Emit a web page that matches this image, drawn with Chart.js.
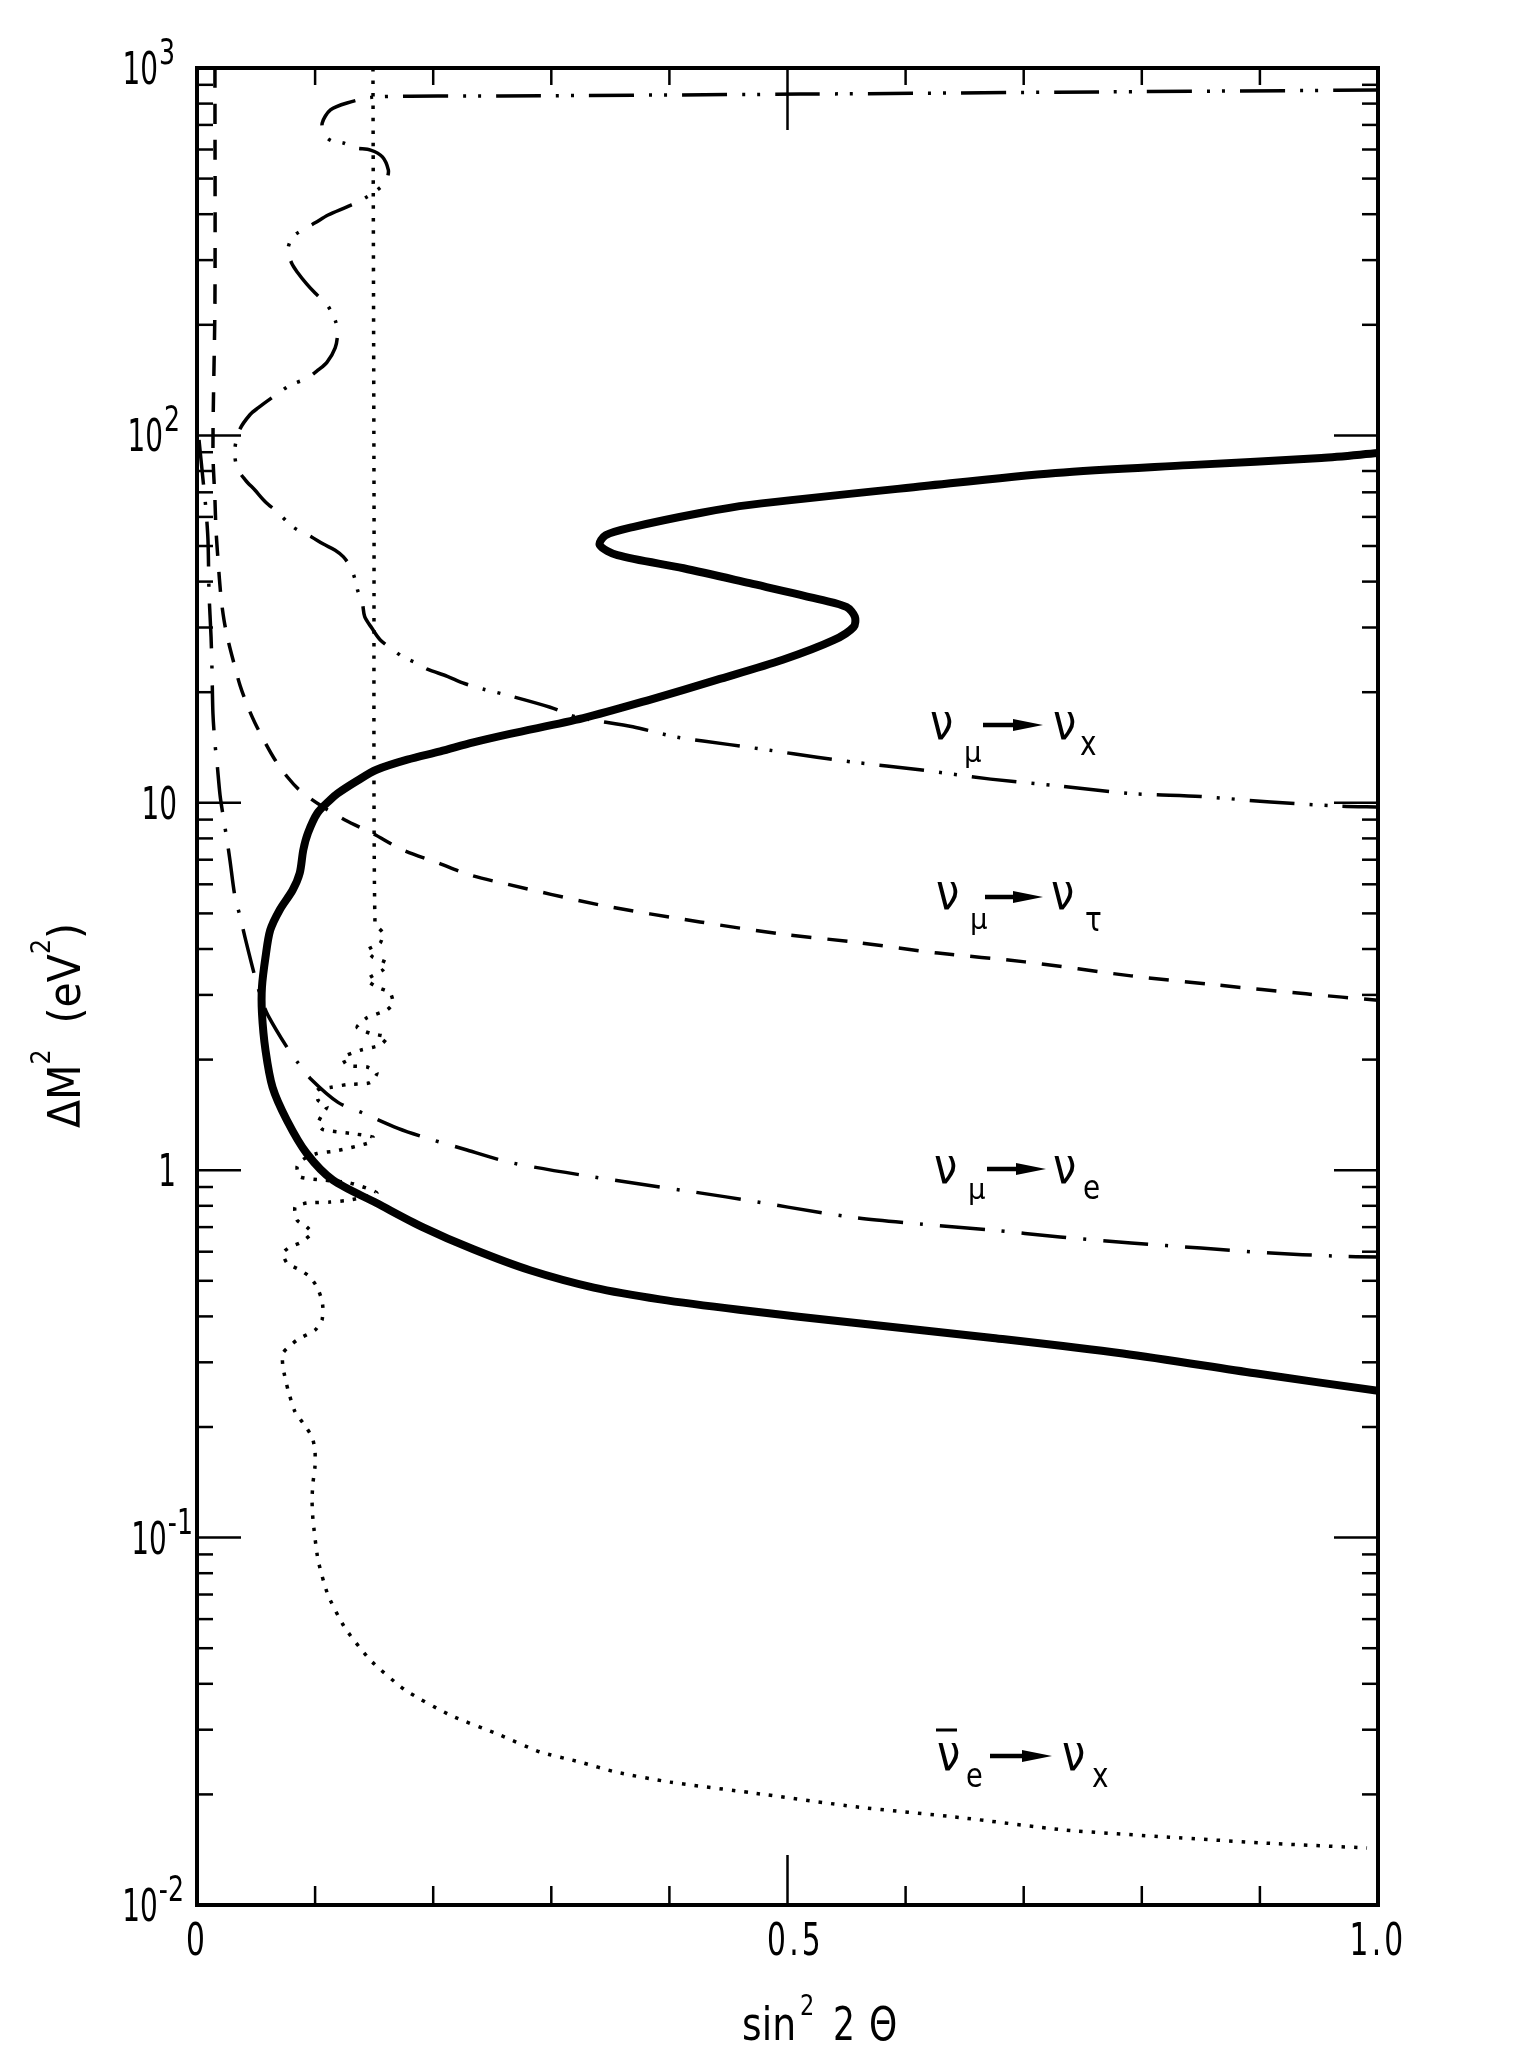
<!DOCTYPE html>
<html><head><meta charset="utf-8">
<script src="https://cdn.jsdelivr.net/npm/chart.js@4.4.1/dist/chart.umd.min.js"></script>
<style>html,body{margin:0;padding:0;background:#fff;}canvas{display:block;}</style>
</head><body>
<canvas id="c" width="1516" height="2070"></canvas>
<script>
// ---------------- data ----------------
// thick solid contour (this experiment)
const solidX = [1.0,0.896,0.784,0.672,0.560,0.459,0.392,0.336,0.282,0.234,0.191,0.152,0.115,0.093,0.076,0.064,0.058,0.055,0.055,0.058,0.062,0.070,0.081,0.087,0.090,0.094,0.102,0.113,0.119,0.136,0.152,0.178,0.206,0.234,0.265,0.327,0.384,0.440,0.496,0.539,0.556,0.557,0.550,0.530,0.468,0.412,0.356,0.341,0.346,0.369,0.426,0.468,0.616,0.727,0.840,0.952,1.0];
const solidY = [0.251,0.280,0.317,0.350,0.383,0.417,0.445,0.479,0.534,0.609,0.700,0.814,0.940,1.11,1.37,1.68,2.12,2.68,3.15,3.80,4.50,5.11,5.79,6.44,7.44,8.28,9.38,10.2,10.6,11.5,12.3,13.1,13.8,14.6,15.4,17.0,19.1,21.6,24.5,27.7,30.1,32.1,34.1,35.6,39.6,43.5,47.2,50.3,53.5,56.3,61.5,64.7,72.8,79.0,83.0,86.8,89.5];
// nu_mu -> nu_x  (dash-dot-dot)
const numuNuxX = [1.0,0.765,0.511,0.257,0.151,0.127,0.113,0.106,0.108,0.114,0.124,0.134,0.147,0.157,0.162,0.161,0.157,0.140,0.127,0.111,0.100,0.091,0.081,0.077,0.080,0.085,0.093,0.100,0.110,0.117,0.119,0.117,0.110,0.103,0.093,0.079,0.064,0.052,0.045,0.036,0.032,0.034,0.041,0.049,0.058,0.068,0.081,0.097,0.107,0.117,0.124,0.130,0.134,0.136,0.140,0.142,0.148,0.155,0.166,0.174,0.186,0.195,0.212,0.225,0.242,0.261,0.299,0.322,0.369,0.406,0.451,0.485,0.525,0.556,0.612,0.672,0.731,0.791,0.850,0.909,0.969,1.0];
const numuNuxY = [871,861,849,839,834,803,769,708,657,633,625,606,598,573,528,502,478,438,419,398,379,365,347,320,295,278,258,244,227,206,190,173,158,151,143,137,127,119,114,103.5,91.3,81.5,75.6,71.0,65.9,61.9,56.4,52.9,50.6,48.7,46.7,43.8,40.4,37.9,35.0,32.1,29.9,27.8,26.1,25.0,24.0,23.1,22.1,21.2,20.4,19.7,18.2,17.1,16.1,15.1,14.4,13.9,13.3,12.9,12.3,11.6,11.1,10.6,10.4,10.05,9.79,9.74];
// nu_mu -> nu_tau  (dashed)
const numuNutauX = [0.0152,0.0152,0.0135,0.0152,0.0161,0.0178,0.0203,0.0229,0.0262,0.0305,0.0364,0.0432,0.0491,0.0576,0.066,0.0771,0.0872,0.1042,0.1253,0.1482,0.1744,0.2041,0.2312,0.2583,0.3412,0.4259,0.4936,0.5555,0.6274,0.7011,0.7909,0.8645,0.939,1.0];
const numuNutauY = [1000,234,91.2,66.7,55.3,45.8,36.3,31.4,27.8,24.5,20.9,18.2,16.5,14.6,13.1,11.7,10.8,9.86,8.98,8.27,7.44,6.86,6.36,6.05,5.27,4.74,4.40,4.18,3.90,3.69,3.38,3.19,3.02,2.90];
// nu_mu -> nu_e  (dash-dot)
const numuNueX = [0.0017,0.0051,0.0076,0.0093,0.0102,0.0119,0.0127,0.0135,0.0152,0.0169,0.0195,0.022,0.0254,0.0279,0.0322,0.0364,0.0406,0.0491,0.055,0.0601,0.0762,0.0855,0.0957,0.1194,0.1406,0.1702,0.1956,0.2286,0.265,0.3362,0.4479,0.5529,0.6122,0.6715,0.7307,0.7909,0.8501,0.9094,0.9627,1.0];
const numuNueY = [97.2,75.7,62.7,51.9,37.2,28.3,23.0,17.5,14.5,12.9,10.5,9.26,7.92,6.98,5.54,4.92,4.31,3.36,2.90,2.64,2.16,1.96,1.78,1.53,1.43,1.30,1.22,1.135,1.05,0.958,0.846,0.746,0.714,0.688,0.658,0.634,0.614,0.595,0.584,0.580];
// anti-nu_e -> nu_x  (dotted)
const nuebarNuxX = [0.149,0.1499,0.1507,0.1575,0.155,0.1439,0.149,0.1609,0.1575,0.1439,0.1524,0.1634,0.166,0.1609,0.1439,0.1355,0.1465,0.1609,0.155,0.138,0.1236,0.127,0.1439,0.1524,0.1465,0.127,0.1126,0.1016,0.1025,0.1101,0.1067,0.1025,0.1067,0.1296,0.149,0.1465,0.1185,0.1016,0.0898,0.0847,0.0872,0.1067,0.1296,0.1524,0.1296,0.1126,0.0931,0.083,0.0847,0.0931,0.0974,0.0872,0.0787,0.0728,0.0762,0.0872,0.0957,0.1016,0.1058,0.1067,0.1058,0.0999,0.0847,0.0728,0.0728,0.0771,0.083,0.0898,0.0974,0.0999,0.0999,0.0982,0.0974,0.0982,0.1025,0.1109,0.1253,0.1465,0.1761,0.2142,0.2566,0.2904,0.3243,0.3548,0.4005,0.4699,0.558,0.6461,0.735,0.823,0.9111,0.9907];
const nuebarNuxY = [1000,66.7,4.71,4.42,4.15,3.97,3.80,3.66,3.51,3.30,3.15,3.04,2.85,2.73,2.60,2.45,2.36,2.30,2.19,2.12,2.03,1.93,1.91,1.84,1.73,1.71,1.68,1.65,1.55,1.49,1.43,1.34,1.29,1.26,1.23,1.19,1.13,1.11,1.07,1.02,0.959,0.940,0.923,0.867,0.830,0.819,0.814,0.794,0.731,0.700,0.674,0.634,0.618,0.595,0.559,0.535,0.512,0.481,0.443,0.416,0.391,0.367,0.345,0.318,0.291,0.252,0.220,0.205,0.188,0.173,0.156,0.141,0.127,0.112,0.0869,0.0698,0.0568,0.0465,0.0385,0.0329,0.0290,0.0261,0.0245,0.0230,0.0216,0.0202,0.0185,0.0173,0.0160,0.0153,0.0147,0.0143];

// ticks and labels
const xTickValues = [0, 0.5, 1.0];
const xTickLabels = ['0', '0.5', '1.0'];
const xMinorTicks = [0.1,0.2,0.3,0.4,0.5,0.6,0.7,0.8,0.9];
const yTickValues = [0.01, 0.1, 1, 10, 100, 1000];
const yTickBase = ['10', '10', '1', '10', '10', '10'];
const yTickExp  = ['-2', '-1', '', '', '2', '3'];
const xTitle = ['sin', '2', '2', '\u0398'];
const yTitle = ['\u0394M', '2', '  (eV', '2', ')'];
// curve annotations: [initial, initial subscript, bar?, final, final subscript]
const curveLabels = [
  ['\u03BD', '\u03BC', false, '\u03BD', 'x'],
  ['\u03BD', '\u03BC', false, '\u03BD', '\u03C4'],
  ['\u03BD', '\u03BC', false, '\u03BD', 'e'],
  ['\u03BD', 'e', true, '\u03BD', 'x']
];

// ---------------- drawing ----------------
const FONT = '"DejaVu Sans", "Liberation Sans", sans-serif';
function pts(xs, ys) { return xs.map((x, i) => ({x: x, y: ys[i]})); }

function txt(ctx, s, x, y, size, sx, align, spacing) {
  ctx.save();
  ctx.font = size + 'px ' + FONT;
  ctx.textAlign = align || 'left';
  ctx.textBaseline = 'alphabetic';
  if (spacing) { try { ctx.letterSpacing = spacing + 'px'; } catch (e) {} }
  ctx.translate(x, y);
  ctx.scale(sx, 1);
  ctx.fillText(s, 0, 0);
  ctx.restore();
}
function tw(ctx, s, size, sx) { ctx.save(); ctx.font = size + 'px ' + FONT; const w = ctx.measureText(s).width * sx; ctx.restore(); return w; }
function seg(ctx, x1, y1, x2, y2) { ctx.beginPath(); ctx.moveTo(x1, y1); ctx.lineTo(x2, y2); ctx.stroke(); }

function arrow(ctx, x1, x2, y) {
  ctx.lineWidth = 4.5;
  seg(ctx, x1, y, x2 - 20, y);
  ctx.beginPath();
  ctx.moveTo(x2 - 30, y - 6);
  ctx.lineTo(x2, y);
  ctx.lineTo(x2 - 30, y + 6);
  ctx.closePath();
  ctx.fill();
}

// placement of annotations (pixels)
const labelPos = [
  {nu1: 932, base: 739, sub1Top: 746, a1: 983, a2: 1043, ay: 725, nu2: 1055, sub2: 1080, sub2Base: 755},
  {nu1: 938, base: 909, sub1Top: 913, a1: 985, a2: 1043, ay: 897, nu2: 1053, sub2: 1085, sub2Base: 931},
  {nu1: 936, base: 1183, sub1Top: 1183, a1: 987, a2: 1046, ay: 1169, nu2: 1055, sub2: 1083, sub2Base: 1199},
  {nu1: 939, base: 1770, sub1Top: 1768, a1: 990, a2: 1052, ay: 1756, nu2: 1064, sub2: 1092, sub2Base: 1787}
];
const yLabelRight = [184, 193, 176, 177, 180, 175];

const decor = {
  id: 'decor',
  afterDraw(chart) {
    const ctx = chart.ctx, xs = chart.scales.x, ys = chart.scales.y, a = chart.chartArea;
    ctx.save();
    ctx.fillStyle = '#000'; ctx.strokeStyle = '#000'; ctx.lineCap = 'butt'; ctx.setLineDash([]);
    // frame
    ctx.lineWidth = 4;
    ctx.strokeRect(a.left, a.top, a.right - a.left, a.bottom - a.top);
    // y ticks (inside, both sides)
    ctx.lineWidth = 2.5;
    for (let d = -2; d <= 2; d++) {
      for (let k = 1; k <= 9; k++) {
        const v = k * Math.pow(10, d);
        const py = ys.getPixelForValue(v);
        const len = (k === 1) ? 44 : 16;
        seg(ctx, a.left, py, a.left + len, py);
        seg(ctx, a.right, py, a.right - len, py);
      }
    }
    // x ticks (inside, top and bottom)
    for (const v of xMinorTicks) {
      const px = xs.getPixelForValue(v);
      const major = Math.abs(v - 0.5) < 1e-9;
      seg(ctx, px, a.bottom, px, a.bottom - (major ? 50 : 19));
      seg(ctx, px, a.top, px, a.top + (major ? 62 : 17));
    }
    // x tick labels
    xTickValues.forEach((v, i) => {
      txt(ctx, xTickLabels[i], xs.getPixelForValue(v) + (i === 1 ? 8 : 0), 1955, 45, 0.66, 'center', 5);
    });
    // y tick labels
    yTickValues.forEach((v, i) => {
      const py = ys.getPixelForValue(v);
      const e = yTickExp[i];
      const RE = yLabelRight[i];
      if (e) {
        const we = tw(ctx, e, 36, 0.7);
        txt(ctx, e, RE - we, py - 4, 36, 0.7, 'left');
        txt(ctx, yTickBase[i], RE - we - 1, py + 16, 45, 0.62, 'right');
      } else {
        txt(ctx, yTickBase[i], RE, py + 16, 45, 0.62, 'right');
      }
    });
    // x title
    txt(ctx, xTitle[0], 742, 2040, 46, 0.82, 'left');
    txt(ctx, xTitle[1], 800, 2015, 28, 0.8, 'left');
    txt(ctx, xTitle[2], 833, 2040, 46, 0.75, 'left');
    txt(ctx, xTitle[3], 869, 2040, 46, 0.78, 'left');
    // y title (rotated)
    ctx.save();
    ctx.translate(80, 1128);
    ctx.rotate(-Math.PI / 2);
    const runs = [[yTitle[0], 45, 0], [yTitle[1], 26, -30], [yTitle[2], 45, 0], [yTitle[3], 26, -30], [yTitle[4], 45, 0]];
    let total = 0; runs.forEach(r => total += tw(ctx, r[0], r[1], 1));
    const k = 205 / total;
    let ox = 0;
    runs.forEach(r => { txt(ctx, r[0], ox, r[2], r[1], k, 'left'); ox += tw(ctx, r[0], r[1], k); });
    ctx.restore();
    // curve annotations
    curveLabels.forEach((L, i) => {
      const p = labelPos[i];
      txt(ctx, L[0], p.nu1 - 2, p.base, 49, 0.85, 'left');
      if (L[2]) { ctx.lineWidth = 3; seg(ctx, p.nu1 - 3, p.base - 40, p.nu1 + 18, p.base - 40); }
      if (L[1] === '\u03BC') txt(ctx, L[1], p.nu1 + 32, p.sub1Top + 16, 29, 0.95, 'left');
      else txt(ctx, L[1], p.nu1 + 27, p.sub1Top + 19, 34, 0.8, 'left');
      arrow(ctx, p.a1, p.a2, p.ay);
      txt(ctx, L[3], p.nu2 - 2, p.base, 49, 0.85, 'left');
      txt(ctx, L[4], p.sub2, p.sub2Base, 34, 0.82, 'left');
    });
    ctx.restore();
  }
};

const common = {showLine: true, pointRadius: 0, borderColor: '#000', backgroundColor: '#000', fill: false};
new Chart(document.getElementById('c'), {
  type: 'scatter',
  data: {datasets: [
    Object.assign({label: 'solid', data: pts(solidX, solidY), borderWidth: 8, tension: 0.3, borderCapStyle: 'round', borderJoinStyle: 'round'}, common),
    Object.assign({label: 'numu-nux', data: pts(numuNuxX, numuNuxY), borderWidth: 3.5, tension: 0.3, borderDash: [45, 15, 3, 12, 3, 15]}, common),
    Object.assign({label: 'numu-nutau', data: pts(numuNutauX, numuNutauY), borderWidth: 3.5, tension: 0.3, borderDash: [20, 16]}, common),
    Object.assign({label: 'numu-nue', data: pts(numuNueX, numuNueY), borderWidth: 3.5, tension: 0.3, borderDash: [45, 17, 3, 17]}, common),
    Object.assign({label: 'nuebar-nux', data: pts(nuebarNuxX, nuebarNuxY), borderWidth: 3.5, tension: 0.2, borderDash: [3.5, 9]}, common)
  ]},
  options: {
    responsive: false, animation: false, devicePixelRatio: 1,
    layout: {padding: {left: 0, right: 138, top: 68, bottom: 0}},
    plugins: {legend: {display: false}, tooltip: {enabled: false}, title: {display: false}},
    scales: {
      x: {type: 'linear', min: 0, max: 1, grid: {display: false}, border: {display: false}, ticks: {display: false},
          afterFit(s) { s.height = 165; }},
      y: {type: 'logarithmic', min: 0.01, max: 1000, grid: {display: false}, border: {display: false}, ticks: {display: false},
          afterFit(s) { s.width = 197; }}
    }
  },
  plugins: [decor]
});
</script>
</body></html>
